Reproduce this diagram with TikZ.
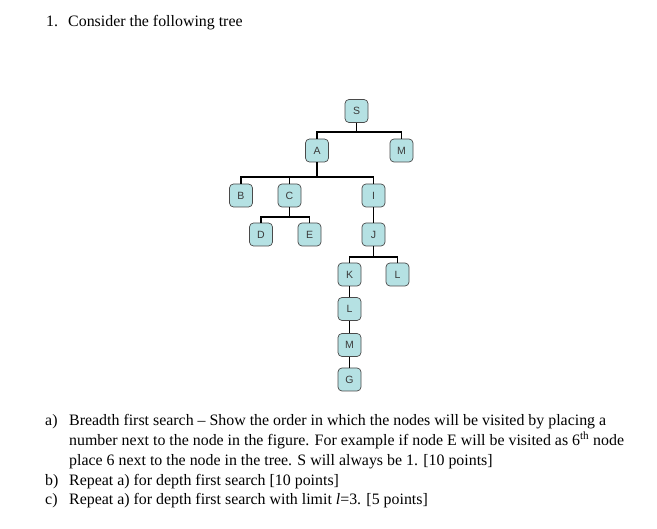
\documentclass[tikz,border=0pt]{standalone}
\usepackage{fontspec}
\setmainfont{Liberation Serif}
\newfontfamily\boxfont{Liberation Sans}
\definecolor{boxfill}{HTML}{B5E1E3}
\definecolor{boxline}{HTML}{4A4A4A}
\definecolor{boxtext}{HTML}{3A3A3A}
\begin{document}
\begin{tikzpicture}[x=1pt,y=-1pt,
  tnode/.style={rectangle,rounded corners=4pt,minimum width=23pt,minimum height=23pt,
    inner sep=0pt,fill=boxfill,draw=boxline,line width=0.7pt,
    font=\boxfont\fontsize{10.5}{12}\selectfont,text=boxtext},
  edge/.style={draw=black,line width=1.3pt},
  txt/.style={anchor=base west,inner sep=0pt,font=\fontsize{15.9}{20}\selectfont}]
\useasboundingbox (0,0) rectangle (657,529);
% nodes
\node[tnode] (S) at (356.5,111) {S};
\node[tnode] (A) at (317,150.5) {A};
\node[tnode] (M1) at (401.5,150.5) {M};
\node[tnode] (B) at (241,195.5) {B};
\node[tnode] (C) at (289.5,195.5) {C};
\node[tnode] (I) at (373.5,195.5) {I};
\node[tnode] (D) at (261,234.5) {D};
\node[tnode] (E) at (309.5,234.5) {E};
\node[tnode] (J) at (373.5,234.5) {J};
\node[tnode] (K) at (349.5,274.5) {K};
\node[tnode] (L2) at (397.5,274.5) {L};
\node[tnode] (L1) at (349.5,309) {L};
\node[tnode] (M2) at (349.5,345) {M};
\node[tnode] (G) at (349.5,379.5) {G};
% bars
\coordinate (bS) at (0,132);
\coordinate (bA) at (0,177);
\coordinate (bC) at (0,217);
\coordinate (bJ) at (0,257);
% edges
\draw[edge] (S.south) -- (S.south |- bS);
\draw[edge] (A.north) |- (M1.north |- bS) -- (M1.north);
\draw[edge] (A.south) -- (A.south |- bA);
\draw[edge] (B.north) |- (I.north |- bA) -- (I.north);
\draw[edge] (C.north) -- (C.north |- bA);
\draw[edge] (C.south) -- (C.south |- bC);
\draw[edge] (D.north) |- (E.north |- bC) -- (E.north);
\draw[edge] (I.south) -- (J.north);
\draw[edge] (J.south) -- (J.south |- bJ);
\draw[edge] (K.north) |- (L2.north |- bJ) -- (L2.north);
\draw[edge] (K.south) -- (L1.north);
\draw[edge] (L1.south) -- (M2.north);
\draw[edge] (M2.south) -- (G.north);
% text
\node[txt] (t0) at (46,27) {1.};
\node[txt] (t1) at (68,27) {Consider the following tree};
\node[txt] (la) at (45,426) {a)};
\node[txt] (a1) at (69,426) {Breadth first search -- Show the order in which the nodes will be visited by placing a};
\node[txt] (a2) at (69,446) {number next to the node in the figure. For example if node E will be visited as 6\textsuperscript{th} node};
\node[txt] (a3) at (69,466) {place 6 next to the node in the tree. S will always be 1. [10 points]};
\node[txt] (lb) at (45,486) {b)};
\node[txt] (b1) at (69,486) {Repeat a) for depth first search [10 points]};
\node[txt] (lc) at (45,505) {c)};
\node[txt] (c1) at (69,505) {Repeat a) for depth first search with limit \textit{l}=3. [5 points]};
\end{tikzpicture}
\end{document}
